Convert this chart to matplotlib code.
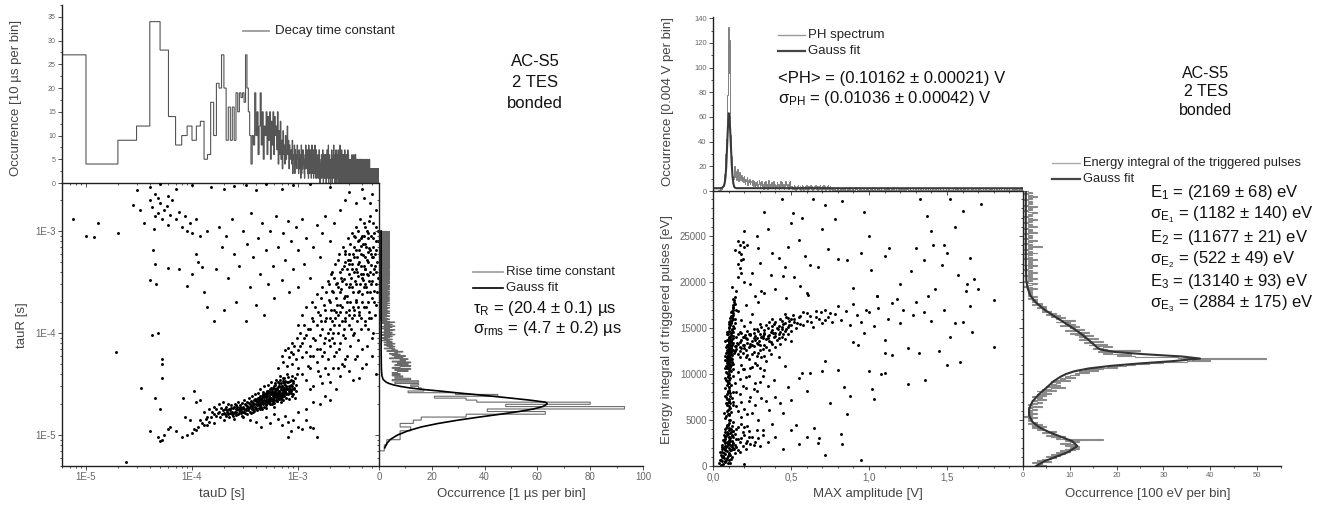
import numpy as np
import matplotlib
matplotlib.use("Agg")
import matplotlib.pyplot as plt
from matplotlib.lines import Line2D
from matplotlib.ticker import MultipleLocator, LogLocator, NullFormatter, FuncFormatter

plt.rcParams['font.family'] = ['Liberation Sans', 'DejaVu Sans']
plt.rcParams['mathtext.fontset'] = 'custom'
plt.rcParams['mathtext.rm'] = 'Liberation Sans'
plt.rcParams['mathtext.it'] = 'Liberation Sans:italic'

# ======================= LEFT PANEL DATA =======================
# decay time constant histogram, 10 us per bin, starting at 0 us
tauD_bin_us = 10
tauD_hist_head = [27, 4, 9, 12, 34, 28, 14, 8, 10, 12,
                  9, 12, 13, 5, 6, 17, 10, 21, 20, 27,
                  20, 9, 16, 9, 16, 9, 19, 15, 19, 18,
                  19, 17, 27, 20, 15, 10, 4, 10, 8, 19,
                  10, 15, 6, 12, 19, 8, 15, 5, 12, 10,
                  15, 6, 14, 9, 15, 5, 13, 8, 15, 6,
                  14, 10, 12, 7, 15, 4, 11, 6, 13, 5,
                  9, 3, 11, 6, 8, 4, 10, 5, 7, 12,
                  6, 9, 3, 8, 5, 6, 7, 4, 9, 2,
                  6, 5, 8, 2, 7, 4, 6, 3, 8, 5]
tauD_hist_tail = ("52736418253746215384637251846273514826371542836174"
                  "31526413725031426153274031625143620531742518036241"
                  "53024163720531426815324061537214062531273051462038"
                  "24150362714025316204613250714230512640315240371526"
                  "20314205132402315031420613250314203516203140250316"
                  "20413052140312502413052031420315024130250314205130"
                  "24130520314205130241305203142051302413052031420513"
                  "024130520314205130241305203120"
                  "12031203120213102312031203120313021302130312031203"
                  "13202312030213021302312031203120312031203120312023"
                  "1")

# rise time constant histogram, 1 us per bin, first bin at 7 us
tauR_bin_us = 1
tauR_first_us = 7
tauR_hist_head = [2, 3, 8, 8, 12, 8, 13, 16, 33, 63, 41, 93, 48, 80, 37, 33, 21, 45, 29, 11,
                  17, 16, 15, 12, 15, 6, 15, 5, 12, 6, 9, 5, 8, 5, 7, 11, 6, 12, 5, 8,
                  12, 6, 11, 7, 12, 5, 10, 8, 11, 4, 9, 6, 10, 5, 8, 4, 7, 6, 9, 3,
                  7, 5, 6, 2, 5, 4, 6, 3, 5, 2, 4, 6, 3, 2, 5, 3, 4, 1, 3, 5,
                  2, 3, 1, 4]
tauR_hist_tail = ("3524163425143253624134251624335241326142"
                  "2130241302120314203102130412032140312031130214021331202410320231402130"
                  "2013042103130241203121043021300312041320213040123110241302133021403120"
                  "1203241302021340213021402312031302041231203140213012403120310213041302"
                  "3120421030130214021320312403120213402130120314023121304023100312041203"
                  "1402130213203142013012304120310213041320210340213013021420310231402103"
                  "2140312031103214021331202413020213402130201304210313024120312104302130"
                  "0312041320213040123110241302133021403120120324130202134021302140231203"
                  "1302041231203140213012403120310213041302312042103013021402132031240312"
                  "0213402130120314023121304023100312041203140213021320314201301230412031"
                  "0213041320210340213013021420310231402103214031203110321402133120241302"
                  "0213402130201304210313024120312104302130031204132021304012311024130213"
                  "3021403120120324130202134021302140231203130204123120314021301240312031"
                  "02130413023120421030")

# Gauss fit of the rise time histogram (tau in us, counts)
riseFit_tau_us = [7.5, 8.3, 9.1, 10, 11, 12, 13, 14, 15, 16, 17, 18, 19, 20, 20.5, 21, 22, 23,
                  24, 25, 26, 27, 28, 29, 30, 31, 32, 33, 35, 38, 45, 70, 1000]
riseFit_cnt = [2.2, 3.0, 4.4, 7.0, 11.0, 16.0, 22.5, 30, 38, 46, 53, 58.5, 62, 63.5, 63.7, 63, 57, 50,
               43, 36, 29, 23, 16.5, 11.5, 8, 5.5, 3.8, 2.7, 1.6, 1.1, 0.9, 0.8, 0.8]

# scatter tauD vs tauR (both in us)
band_pts = [(150,15),(155,17),(160,16),(162,19),(168,15.5),(170,18),(175,16.5),(178,20),(180,17),(185,15),
            (188,18.5),(190,16),(195,17.5),(198,21),(200,16.5),(205,18),(208,15.5),(210,19),(215,17),(218,16),
            (220,20),(225,18),(228,16.5),(230,17.5),(235,19.5),(240,17),(242,15.5),(245,18.5),(250,16.5),(255,20),
            (258,18),(260,17),(265,19),(270,16),(272,21),(275,18),(280,17.5),(285,19.5),(288,16.5),(290,18),
            (295,20.5),(300,17),(305,19),(310,18),(312,22),(318,16.5),(320,19.5),(325,18),(330,21),(335,17.5),
            (340,19),(345,23),(348,18.5),(350,20),(355,17),(360,21.5),(365,19),(370,24),(375,18),(380,20.5),
            (385,22),(390,19),(395,25),(400,20),(405,18.5),(410,22.5),(415,21),(420,26),(425,19.5),(430,23),
            (435,20.5),(440,28),(445,22),(450,19),(455,24),(460,21),(465,26.5),(470,20),(475,23.5),(480,30),
            (485,21.5),(490,25),(495,19.5),(500,22),(505,27),(510,20.5),(515,24),(520,31),(525,22.5),(530,26),
            (535,21),(540,28.5),(545,23),(550,20),(555,25.5),(560,33),(565,22),(570,27),(575,24),(580,21),
            (585,29),(590,23.5),(595,26),(600,20.5),(605,31),(610,24.5),(615,22),(620,27.5),(625,35),(630,23),
            (635,25),(640,21.5),(645,29.5),(650,24),(655,27),(660,22.5),(665,32),(670,25.5),(675,23),(680,38),
            (685,28),(690,24),(695,21),(700,30),(705,26),(710,23.5),(715,34),(720,27),(725,22),(730,29),
            (735,25),(740,36),(745,24),(750,31),(760,27.5),(770,23),(780,40),(790,29),(800,25.5),(810,33),
            (820,27),(830,22.5),(840,30),(850,26),(860,35),(870,24),(880,28),(890,32),(900,25),(920,29),
            (940,23),(960,27),(260,19.5),(330,18.5),(420,21.5),(470,24.5),(520,21.5),(560,26),(610,28),
            (660,30),(720,24.5),(770,26),(830,28),(380,17),(440,18),(500,18.5),(600,19)]
band_more_pts = [(205,16),(212,17.5),(222,15),(232,18.5),(238,16),(248,19),(252,17),(262,15.8),(268,18),(276,16.5),
                 (282,19),(292,17.2),(298,15.5),(302,18.5),(308,16.8),(315,20),(322,17.5),(328,19.2),(332,16),(338,18),
                 (342,20.5),(352,18.8),(358,16.5),(362,19.8),(368,17.8),(372,21),(378,19.5),(382,17.2),(388,20),(392,22.5),
                 (398,18),(402,21.5),(408,19.5),(412,17.5),(418,23),(422,20),(428,18.5),(432,21.5),(438,24),(442,19.5),
                 (448,22.5),(452,20.5),(458,18),(462,23),(468,21.5),(472,25.5),(478,19),(482,22),(488,24.5),(492,20.5),
                 (498,26),(502,23.5),(508,21),(512,25),(518,22.5),(522,27),(528,20.5),(532,24),(538,22),(542,26.5),
                 (548,21.5),(552,29),(558,23),(562,25),(568,20),(572,28),(578,22.5),(582,26),(588,24.5),(592,30),
                 (598,22),(602,27),(608,25),(612,32),(618,23.5),(622,26),(628,29),(632,21.5),(638,28),(642,24.5),
                 (648,33),(652,26.5),(658,23),(662,30),(668,27),(672,24.5),(678,35),(682,26),(688,29.5),(692,22.5),
                 (698,32),(702,27.5),(708,25),(712,30.5),(718,28),(722,36),(728,24),(732,32),(738,26.5),(742,29),
                 (748,34),(755,27),(765,30),(775,25.5),(785,33),(795,28),(805,37),(815,30),(825,26),(835,34),
                 (845,28.5),(855,31),(865,27),(875,38),(885,30),(895,34),(910,28),(930,36),(950,31),(970,40)]
below_pts = [(140,12.5),(160,13),(200,14),(250,14.5),(300,15),(350,14),(400,13.5),(450,12),(500,15),(550,13),
             (600,16),(650,14.5),(700,12.5),(750,15.5),(800,13.5),(850,11),(900,14),(1000,12),(1100,11.5),(1200,14),
             (1300,12),(1400,11.8),(800,9.5),(1500,9.5),(1000,17),(1200,18),(1400,21),(1600,20),(1800,24),(2000,22)]
lowleft_pts = [(40,11),(48,9.5),(50,8.7),(52,9),(55,10),(60,11.5),(62,12),(70,11),(80,9.5),(85,15),
               (90,10),(95,14),(100,10.5),(105,11.5),(110,11.2),(115,12),(120,14),(125,13),(130,12.5),(135,14.5),
               (140,15),(145,13.5),(82,23),(110,21),(105,27),(120,22),(145,18),(130,17),(45,23),(50,18),
               (52,36),(52,50),(52,55),(42,95),(48,100),(19,65),(33,29),(24,5.5)]
fan_pts = [(650,45),(700,60),(720,52),(750,68),(780,48),(800,72),(820,58),(850,65),(870,80),(880,50),
           (900,62),(920,75),(950,55),(980,90),(1000,68),(1000,45),(1050,100),(1100,58),(1100,80),(1150,120),
           (1200,65),(1200,95),(1250,48),(1300,110),(1300,75),(1350,140),(1400,60),(1400,90),(1450,180),(1500,70),
           (1500,120),(1550,42),(1600,95),(1600,150),(1650,220),(1700,60),(1700,110),(1750,80),(1800,170),(1800,130),
           (1850,250),(1900,55),(1900,100),(1950,300),(2000,75),(2000,140),(2000,200),(2050,380),(2100,90),(2100,260),
           (2150,45),(2200,120),(2200,170),(2250,480),(2300,65),(2300,220),(2350,310),(2400,100),(2400,150),(2450,600),
           (2500,80),(2500,190),(2500,400),(2550,270),(2600,50),(2600,130),(2650,700),(2700,110),(2700,340),(2750,230),
           (2800,90),(2800,500),(2850,160),(2900,60),(2900,420),(2950,850),(3000,120),(3000,280),(3000,600),(3100,200),
           (3100,75),(3150,350),(3200,140),(3200,950),(3250,480),(3300,95),(3300,250),(3350,700),(3400,170),(3400,400),
           (3450,55),(3500,300),(3500,1100),(3550,210),(3600,130),(3600,550),(3650,800),(3700,85),(3700,360),(3750,260),
           (3800,160),(3800,650),(3850,1300),(3900,450),(3950,110),(4000,240),(4000,900),(4050,70),(4100,330),(4100,580),
           (4200,180),(4200,1200),(4250,420),(4300,130),(4300,750),(4400,280),(4400,50),(4500,520),(4500,1000),(4550,200),
           (4600,370),(4700,140),(4700,680),(4800,250),(4800,1400),(4900,460),(5000,90),(5000,320),(5100,850),(5200,200),
           (5300,600),(5400,1100),(5400,40),(5500,400),(5500,1600),(1200,35),(1400,30),(1600,38),(1800,45),(2000,33),
           (2200,60),(2500,38),(2700,48),(3000,42),(3300,35),(3600,60),(4000,45),(4500,75),(5000,60),(1300,28),
           (1700,32),(2300,28),(3800,36),(5600,250),(5700,800),(2600,320),(3100,520),(3450,880),(3900,720),(4600,950),
           (2900,230),(3300,180),(4100,380),(4900,600),(2400,280),(3700,480),(4300,300),(5200,420),(2200,350),(2800,640)]
fan_more_pts = [(1000,120),(1050,75),(1100,150),(1150,90),(1200,180),(1250,110),(1300,60),(1350,200),(1400,130),(1450,85),
                (1500,240),(1550,160),(1600,70),(1650,130),(1700,280),(1750,190),(1800,90),(1850,140),(1900,320),(1950,210),
                (2000,110),(2050,170),(2100,400),(2150,250),(2200,80),(2250,140),(2300,300),(2350,190),(2400,520),(2450,120),
                (2500,250),(2550,350),(2600,180),(2650,95),(2700,450),(2750,600),(2800,140),(2850,300),(2900,200),(2950,520),
                (3000,170),(3050,380),(3100,750),(3150,110),(3200,420),(3250,280),(3300,600),(3350,150),(3400,900),(3450,320),
                (3500,200),(3550,650),(3600,400),(3650,250),(3700,1000),(3750,150),(3800,500),(3850,300),(3900,850),(3950,600),
                (4000,350),(4050,200),(4100,750),(4150,450),(4200,280),(4250,1100),(4300,550),(4350,180),(4400,700),(4450,380),
                (4500,250),(4550,850),(4600,500),(4650,160),(4700,1250),(4750,400),(4800,650),(4850,300),(4900,900),(4950,220),
                (5000,550),(5050,1200),(5100,380),(5150,700),(5200,260),(5250,950),(5300,450),(5350,150),(5400,650),(5450,300),
                (5500,800),(5600,500),(5700,350),(5700,1000),(2600,420),(3000,480),(3400,560),(3800,820),(4200,900),(4600,620),
                (2300,160),(2700,220),(3100,300),(3500,420),(3900,380),(4300,420),(4700,320),(5100,560),(2100,130),(2500,160),
                (1750,65),(1950,85),(2150,100),(2450,70),(2750,130),(3050,150),(3350,100),(3650,180),(3950,140),(4250,120),
                (4550,110),(4850,140),(5150,100),(5450,190),(1100,40),(1300,45),(1500,52),(1900,40),(2400,45),(2800,55)]
upper_pts = [(30,2500),(40,2700),(45,2300),(50,2900),(60,2200),(70,2600),(100,2800),(150,2700),(200,2600),(250,2750),
             (320,2850),(400,2500),(500,2900),(700,2600),(900,2800),(1300,2900),(2000,2700),(3000,2400),(4000,2600),(5000,2300),
             (28,1800),(32,1600),(35,1200),(40,2000),(42,1700),(45,1400),(48,2100),(50,1900),(52,1300),(55,1600),
             (58,1750),(60,1150),(62,1450),(65,2000),(70,1300),(75,1550),(80,1100),(85,1400),(90,1000),(95,1200),
             (100,950),(110,1300),(120,900),(140,1000),(48,1500),(44,1050),(43,650),(45,480),(46,300),(40,330),
             (60,430),(75,420),(100,380),(90,290),(7.5,1300),(13,1200),(10,900),(12,880),(20,950),
             (110,600),(115,500),(125,440),(130,250),(140,180),(160,130),(170,420),(180,1100),(190,700),(200,170),
             (210,900),(220,350),(240,1300),(250,600),(260,200),(280,450),(300,1000),(320,130),(330,750),(350,280),
             (360,1500),(380,550),(400,190),(420,850),(440,380),(460,1200),(480,150),(500,650),(520,300),(550,1000),
             (580,450),(600,220),(620,1400),(650,700),(700,330),(720,950),(750,520),(800,1250),(820,250),(850,800),
             (900,420),(950,1100),(1000,280),(1000,650),(1100,1300),(1150,480),(1200,850),(1300,350),(1400,700),(1500,1150),
             (1600,550),(1700,950),(1800,1400),(2000,800),(2200,1200),(2500,1600),(2800,2000),(3500,1900),(4200,2100),(4800,1900)]

# ======================= RIGHT PANEL DATA =======================
# PH spectrum, 0.004 V per bin
ph_bin_V = 0.004
ph_hist_head = [0, 0, 0, 0, 0, 0, 0, 0, 1, 0, 1, 2, 1, 3, 2,
                4, 6, 9, 14, 20, 30, 42, 55, 78, 133, 96, 122, 70, 45, 28, 16, 12, 10,
                14, 20, 11, 16, 9, 13, 18, 8, 12, 15, 10, 9, 13, 8, 11, 7, 12, 9, 6, 10, 8, 11, 5, 9, 7, 10, 6, 8]
ph_hist_tail = ("7594863758469735846273584629536475384625374625384736254853627384"
                "342352413245324135241342531424352413243524134253142352413425314223"
                "1021201312012021102121012013101202101321011202101220102120111203101201"
                "0211201021101210213020110201211020112012012102110221012010121012010211"
                "0210121012110201210120110210120120110201102101201101120102102010120112"
                "1021102010012021101210120121010211020110102012101201120102012101120102"
                "101201102101201201121213")

# Gauss fit of the PH spectrum (V, counts)
phFit_V = [0.0, 0.05, 0.06, 0.07, 0.075, 0.08, 0.085, 0.09, 0.095, 0.1, 0.1016, 0.105, 0.11,
           0.115, 0.12, 0.125, 0.13, 0.135, 0.14, 0.15, 1.99]
phFit_cnt = [2.2, 2.3, 2.8, 4.0, 6.5, 11, 20, 35, 50, 61, 63, 60, 50, 36, 22, 12, 6.5, 3.8, 2.7, 2.3, 2.2]

# energy integral histogram, 100 eV per bin
en_bin_eV = 100
en_hist = [5, 3, 4, 2, 6, 3, 5, 4, 6, 7, 5, 8, 6, 9, 7, 10, 8, 11, 9, 12,
           10, 12, 9, 11, 8, 10, 12, 9, 17, 7, 8, 6, 9, 5, 7, 6, 4, 7, 5, 3,
           4, 2, 5, 3, 2, 4, 1, 3, 2, 1, 2, 1, 3, 0, 2, 1, 2, 3, 1, 2,
           1, 3, 2, 1, 4, 2, 1, 3, 2, 4, 3, 2, 5, 3, 4, 2, 5, 3, 6, 4,
           5, 3, 7, 4, 6, 9, 5, 8, 6, 7, 8, 6, 10, 7, 9, 8, 11, 9, 10, 12,
           11, 14, 12, 16, 13, 17, 15, 20, 18, 22, 24, 27, 30, 35, 40, 36, 52, 33, 28, 24,
           20, 23, 17, 19, 16, 25, 18, 15, 17, 19, 16, 14, 18, 15, 13, 17, 14, 12, 16, 13,
           12, 15, 11, 13, 10, 14, 12, 9, 13, 11, 10, 12, 8, 11, 9, 10, 7, 9, 11, 8,
           7, 9, 6, 8, 5, 7, 6, 4, 6, 5, 4, 5, 3, 5, 4, 2, 4, 3, 2, 3,
           2, 3, 1, 2, 3, 1, 2, 1, 2, 1,
           2, 1, 3, 1, 2, 0, 1, 2, 3, 1, 0, 2, 1, 3, 1, 2, 1, 0, 2, 1,
           3, 1, 2, 0, 1, 2, 1, 3, 0, 1, 2, 1, 2, 1, 3, 0, 2, 1, 1, 2,
           0, 3, 1, 2, 1, 0, 2, 1, 4, 1, 2, 0, 1, 2, 1, 3, 1, 0, 2, 1,
           2, 1, 0, 3, 1, 2, 1, 2, 0, 1, 3, 1, 2, 1, 0, 2, 1, 3, 1, 2,
           1, 0, 2, 1, 2, 3, 1, 0, 2, 1, 2, 1, 3, 0, 1, 2, 1, 2, 1, 0,
           2, 1, 3, 1, 2, 1, 0, 2, 1]

# Gauss fit (3 components) of the energy histogram (eV, counts)
enFit_E = [0, 500, 1000, 1500, 2169, 2700, 3200, 3700, 4200, 4800, 5500, 6200, 7000, 7800, 8500,
           9200, 9700, 10000, 10300, 10600, 10900, 11150, 11400, 11677, 11900, 12150, 12400, 12650, 12900,
           13300, 13800, 14400, 15000, 15700, 16400, 17100, 17800, 18500, 19300, 20200, 22000, 29900]
enFit_cnt = [2.8, 4.5, 7.0, 9.6, 11.6, 10.5, 8.0, 5.5, 3.5, 2.0, 1.3, 1.3, 2.0, 3.4, 5.0,
             6.5, 8.0, 9.2, 11, 14, 19, 25, 32, 37.8, 34, 26, 19.5, 16.6, 15.8,
             14.9, 13.8, 12.3, 10.6, 8.5, 6.3, 4.3, 2.7, 1.6, 1.0, 0.7, 0.6, 0.6]

# scatter MAX amplitude (V) vs energy integral (eV)
col_pts = [(0.08,5200),(0.1,5500),(0.09,6000),(0.11,6300),(0.085,6800),(0.1,7100),(0.12,7400),(0.09,7800),
           (0.105,8200),(0.08,8500),(0.115,8800),(0.095,9000),(0.07,5800),(0.13,6600),(0.075,7600),(0.125,8000),
           (0.09,9200),(0.1,9400),(0.11,9600),(0.095,9800),(0.105,10000),(0.085,10200),(0.115,10300),(0.1,10500),
           (0.09,10700),(0.11,10800),(0.095,11000),(0.105,11100),(0.1,11200),(0.12,11300),(0.09,11400),(0.11,11500),
           (0.1,11600),(0.095,11650),(0.105,11700),(0.115,11750),(0.1,11800),(0.09,11850),(0.11,11900),(0.1,12000),
           (0.12,12050),(0.095,12100),(0.105,12200),(0.085,12300),(0.115,12350),(0.1,12400),(0.11,12500),(0.09,12600),
           (0.125,12650),(0.1,12700),(0.105,12800),(0.115,12900),(0.095,13000),(0.11,13100),(0.12,13200),(0.1,13300),
           (0.13,13400),(0.105,13500),(0.115,13600),(0.09,13700),(0.12,13800),(0.1,13900),(0.11,14000),(0.125,14100),
           (0.095,14300),(0.115,14500),(0.105,14700),(0.12,14900),(0.1,15100),(0.11,15300),(0.115,15500),(0.105,15700),
           (0.12,15900),(0.11,16100),(0.115,16300),(0.125,16600),(0.12,16900),(0.13,17200),(0.125,17500),(0.135,17800),
           (0.13,18100),(0.14,18400),(0.08,9600),(0.075,10600),(0.08,11500),(0.085,12900),(0.08,13600),(0.09,14600),
           (0.075,12000),(0.13,10500),(0.125,11100),(0.135,12300),(0.14,13000),(0.13,9800),
           (0.09,4500),(0.1,5000),(0.095,5600),(0.105,6200),(0.09,6600),(0.1,7000),(0.11,7600),(0.095,8000),
           (0.105,8600),(0.1,9000),(0.085,5400),(0.115,5900),(0.09,7300),(0.1,8300),(0.11,6900),
           (0.15,19000),(0.16,20500),(0.17,21500),(0.16,22000),(0.18,23000),(0.17,24000),(0.19,24400),(0.2,23800),
           (0.18,21000),(0.19,22500),(0.165,23300),(0.2,20000),(0.145,17000),(0.14,16000),(0.135,15000)]
col_more_pts = [(0.085,9400),(0.095,9700),(0.105,9900),(0.09,10100),(0.1,10300),(0.11,10400),(0.095,10600),(0.105,10800),
                (0.085,10900),(0.115,11000),(0.1,11050),(0.09,11150),(0.11,11250),(0.095,11350),(0.105,11450),(0.1,11520),
                (0.12,11600),(0.09,11700),(0.11,11780),(0.1,11900),(0.095,11950),(0.105,12050),(0.115,12150),(0.1,12250),
                (0.09,12350),(0.11,12450),(0.1,12550),(0.12,12600),(0.105,12650),(0.095,12750),(0.115,12850),(0.1,12950),
                (0.11,13050),(0.09,13150),(0.105,13250),(0.12,13350),(0.1,13450),(0.115,13550),(0.095,13650),(0.11,13750),
                (0.105,13850),(0.125,13950),(0.1,14050),(0.115,14200),(0.09,14400),(0.11,14600),(0.12,14800),(0.1,15000),
                (0.125,15200),(0.105,15400),(0.115,15600),(0.11,15800),(0.125,16000),(0.12,16200),(0.13,16400),(0.115,16700),
                (0.13,17000),(0.125,17300),(0.14,17600),(0.135,18000),(0.09,8800),(0.1,8600),(0.095,8200),(0.11,7900),
                (0.085,7500),(0.1,7300),(0.09,6900),(0.105,6500),(0.095,6100),(0.1,5700)]
band2_pts = [(0.14,12500),(0.15,13000),(0.16,12200),(0.17,13500),(0.18,12800),(0.19,14000),(0.2,13200),(0.21,12600),
             (0.22,13800),(0.23,14300),(0.24,13000),(0.25,13600),(0.26,12400),(0.27,14100),(0.28,13400),(0.29,14700),
             (0.3,13100),(0.31,14000),(0.32,12700),(0.33,14500),(0.34,13800),(0.35,15000),(0.36,14200),(0.37,13500),
             (0.38,14800),(0.39,15400),(0.4,14100),(0.41,13700),(0.42,15200),(0.43,14600),(0.44,15800),(0.45,14300),
             (0.46,15500),(0.47,14900),(0.48,16100),(0.49,15300),(0.5,14700),(0.51,16400),(0.52,15600),(0.53,15000),
             (0.55,16200),(0.56,15400),(0.58,16700),(0.6,15800),(0.62,16300),(0.64,15100),(0.66,16900),(0.68,16000),
             (0.7,15500),(0.72,17000),(0.74,16200),(0.76,15700),(0.78,16500),(0.8,17400),(0.82,15900),(0.85,16800),
             (0.88,15300),(0.9,17600),(0.92,16400),(0.95,15600),(0.98,17000),
             (0.15,14000),(0.17,14600),(0.19,12300),(0.2,15200),(0.22,12100),(0.24,15600),(0.26,14900),(0.28,12000),
             (0.3,15400),(0.33,13200),(0.36,12600),(0.38,16000),(0.4,12900),(0.43,13300),(0.46,16500),(0.5,13600),
             (0.13,14600),(0.14,15500),(0.16,16800),(0.18,15900),(0.21,17500),(0.25,16500),(0.29,17800),(0.31,11800),
             (0.34,11400),(0.27,11200),(0.23,11600),(0.18,11000),(0.2,10500),(0.155,13400),(0.175,12900),(0.205,14200),
             (0.235,13300),(0.265,13900),(0.295,13600),(0.325,14300),(0.355,13900),(0.385,14500),(0.415,14900),(0.445,15100)]
band2_more_pts = [(0.15,12700),(0.16,13300),(0.17,12500),(0.18,13700),(0.19,13100),(0.2,12800),(0.21,13900),(0.22,13400),
                  (0.23,12900),(0.24,14200),(0.25,13200),(0.26,14500),(0.27,13700),(0.28,14900),(0.29,13300),(0.3,14400),
                  (0.31,15100),(0.32,13900),(0.33,14800),(0.34,15300),(0.35,14100),(0.36,15600),(0.37,14600),(0.38,15200),
                  (0.39,14000),(0.4,15700),(0.41,15000),(0.42,14400),(0.43,16000),(0.44,14900),(0.45,15400),(0.46,14700),
                  (0.47,16200),(0.48,15100),(0.49,15800),(0.5,15300),(0.52,16000),(0.54,15500),(0.56,16300),(0.58,15300),
                  (0.6,16600),(0.63,15700),(0.66,16200),(0.69,16700),(0.72,15900),(0.75,16600),(0.16,14300),(0.18,14500),
                  (0.2,14000),(0.22,14700),(0.24,14400),(0.26,13000),(0.28,13900),(0.3,12600),(0.32,14100),(0.34,12900),
                  (0.36,13600),(0.38,13300),(0.4,14500),(0.42,13900),(0.44,14000),(0.46,13800),(0.48,14400),(0.5,16000),
                  (0.17,11800),(0.21,11900),(0.25,12200),(0.29,12300),(0.33,12000),(0.37,12200)]
right2_pts = [(1.0,16700),(1.03,15200),(1.06,17200),(1.1,12300),(1.12,16000),(1.15,17700),(1.18,18200),(1.2,15500),
              (1.25,12800),(1.28,16400),(1.3,17800),(1.32,12300),(1.35,16700),(1.38,18500),(1.4,15800),(1.42,19200),
              (1.45,12500),(1.48,17000),(1.5,11000),(1.52,14000),(1.55,15500),(1.58,11300),(1.6,15600),(1.62,19000),
              (1.65,17400),(1.66,14600),(1.7,19200),(1.8,18000),(1.8,12900),(1.1,13700),(1.08,10000),(1.15,12100),
              (1.22,17000),(1.05,18500),(0.97,14500),(0.93,13200),(0.9,13500)]
upper2_pts = [(0.2,25500),(0.22,24000),(0.25,21000),(0.28,25000),(0.29,23700),(0.3,22100),(0.31,19000),(0.33,27600),
              (0.35,25800),(0.37,20800),(0.4,19200),(0.42,22600),(0.44,29000),(0.45,20600),(0.46,21600),(0.48,23800),
              (0.5,26400),(0.51,27500),(0.52,20500),(0.55,24600),(0.56,19600),(0.57,27000),(0.59,22800),(0.6,18800),
              (0.62,21800),(0.64,29000),(0.67,21600),(0.7,25800),(0.72,28400),(0.74,23600),(0.78,26800),(0.8,22500),
              (0.83,28800),(0.86,22400),(0.9,19300),(0.95,23100),(0.97,27600),(1.0,25000),(1.01,21300),(1.05,18500),
              (1.1,22800),(1.13,23700),(1.2,19800),(1.27,21200),(1.3,23700),(1.33,29000),(1.35,22400),(1.37,27200),
              (1.4,25500),(1.41,24000),(1.47,21800),(1.48,24000),(1.5,23200),(1.52,29000),(1.55,26000),(1.57,20800),
              (1.6,27700),(1.63,19800),(1.65,22600),(1.67,20300),(1.72,28500),(0.18,22400),(0.24,19800),(0.27,18500),
              (0.38,23200),(0.16,24500),(0.12,19500),(0.14,23500),(0.33,18800),(0.47,18300),(0.61,18600)]
mid2_pts = [(0.14,9000),(0.15,6500),(0.16,10200),(0.17,7800),(0.18,5300),(0.19,8700),(0.2,6200),(0.21,9700),
            (0.22,4300),(0.23,7100),(0.24,10600),(0.25,5800),(0.26,8400),(0.27,6600),(0.28,11000),(0.29,5000),
            (0.3,9100),(0.31,7400),(0.32,3900),(0.33,10400),(0.35,8700),(0.36,6100),(0.38,4600),(0.39,9400),
            (0.4,7500),(0.42,11800),(0.43,6800),(0.45,5800),(0.46,10900),(0.48,8600),(0.5,7200),(0.53,4500),
            (0.55,9600),(0.57,10100),(0.6,8200),(0.62,10100),(0.65,4100),(0.68,3000),(0.7,10300),(0.72,11400),
            (0.75,6900),(0.8,10400),(0.83,2400),(0.84,8600),(0.86,5600),(0.88,7600),(0.95,600),(1.0,10300),
            (1.02,8400),(1.03,7300),(1.1,10100),(1.25,8900),(1.36,9300),(0.72,1200),(0.55,2400),(0.45,1900),
            (0.4,3100),(0.35,2600),(0.6,3200),(0.82,3500),(0.67,2500),(0.5,3900),
            (0.15,8000),(0.17,9500),(0.19,10500),(0.21,8500),(0.23,9800),(0.25,10800),(0.27,9000),(0.3,10600),
            (0.13,7000),(0.16,6000),(0.18,7000),(0.22,5600),(0.24,7500),(0.28,8100),(0.32,9800),(0.34,7100)]
low2_pts = [(0.05,100),(0.06,500),(0.065,200),(0.07,900),(0.075,400),(0.08,1300),(0.085,700),(0.09,1600),
            (0.095,1100),(0.1,2000),(0.105,1400),(0.11,2300),(0.115,1700),(0.12,2700),(0.125,2000),(0.13,3100),
            (0.06,1500),(0.07,2000),(0.075,2500),(0.08,2900),(0.085,3300),(0.09,3700),(0.095,2400),(0.1,2800),
            (0.105,3200),(0.11,3600),(0.115,4000),(0.12,4400),(0.125,3800),(0.09,4300),(0.1,4700),(0.08,4000),
            (0.07,3400),(0.065,2800),(0.055,1800),(0.05,1200),(0.045,600),(0.04,300),(0.1,600),(0.12,1000),
            (0.14,1400),(0.15,2100),(0.16,1700),(0.17,2600),(0.18,3000),(0.19,2200),(0.2,3400),(0.21,1900),
            (0.22,2700),(0.23,3800),(0.24,2400),(0.25,3200),(0.27,2600),(0.28,3900),(0.3,2200),(0.32,3400),
            (0.2,200),(0.14,3500),(0.16,4200),(0.18,4600),(0.13,4800),(0.11,5000),(0.085,2100),(0.095,3500),
            (0.105,2600),(0.075,1700),(0.115,800),(0.135,1800),(0.145,2900),(0.11,300),(0.09,2600),(0.1,3900),
            (0.08,2200),(0.12,3300),(0.07,2800),(0.11,1200),(0.095,300),(0.13,2500),
            (0.05,600),(0.06,1000),(0.07,1400),(0.08,1800),(0.09,2200),(0.1,2600),(0.11,3000),(0.12,3400),
            (0.13,3800),(0.06,2300),(0.07,2700),(0.08,3200),(0.09,3500),(0.1,3100),(0.11,2700),(0.12,2300),
            (0.13,1900),(0.08,500),(0.09,900),(0.1,1300),(0.11,1700),(0.12,2100),(0.075,3700),(0.085,4100),
            (0.095,4500),(0.105,4100),(0.115,3700),(0.065,1100),(0.055,2100),(0.045,1500),(0.14,2300),(0.16,2900),
            (0.17,1500),(0.19,3700),(0.21,2500),(0.23,3100),(0.26,2300),(0.29,3000),(0.15,4000),(0.2,4200)]

# ======================= FIGURE =======================
W, H = 1317, 508
fig = plt.figure(figsize=(W / 100, H / 100), dpi=100)
fig.patch.set_facecolor('white')

def ax_px(l, t, r, b):
    return fig.add_axes([l / W, 1 - b / H, (r - l) / W, (b - t) / H])

def T(x, y, s, size, **kw):
    kw.setdefault('va', 'center')
    kw.setdefault('color', '#111111')
    fig.text(x / W, 1 - y / H, s, fontsize=size, **kw)

def L(x1, x2, y, color, lw):
    fig.add_artist(Line2D([x1 / W, x2 / W], [1 - y / H, 1 - y / H], color=color, lw=lw,
                          transform=fig.transFigure))

def style(ax, lsize, show=('left', 'bottom')):
    for k, s in ax.spines.items():
        s.set_visible(k in show)
        s.set_linewidth(1.0)
        s.set_color('#222222')
    ax.tick_params(which='both', direction='out', color='#333333', width=0.6,
                   labelsize=lsize, labelcolor='#666666', pad=1.5)
    ax.tick_params(which='major', length=3)
    ax.tick_params(which='minor', length=1.7)
    ax.set_facecolor('none')

def dots(ax, groups, xscale=1.0, yscale=1.0):
    for grp in groups:
        a = np.array(grp, dtype=float)
        ax.scatter(a[:, 0] * xscale, a[:, 1] * yscale, s=4.5, c='black', linewidths=0)

sci = FuncFormatter(lambda v, p: '1E%d' % int(round(np.log10(v))))
comma = FuncFormatter(lambda v, p: ('%.1f' % v).replace('.', ','))

xlimD = (5.94e-6, 5.81e-3)
ylimR = (4.97e-6, 2.955e-3)

# ---- left top histogram ----
axT = ax_px(62, 5, 379, 183)
vals = np.array(tauD_hist_head + [int(c) for c in tauD_hist_tail], dtype=float)
edges = np.arange(len(vals) + 1) * tauD_bin_us * 1e-6
edges[0] = 1e-7
axT.stairs(vals, edges, color='#555555', lw=0.8)
axT.set_xscale('log')
axT.set_xlim(*xlimD)
axT.set_ylim(0, 37.5)
axT.yaxis.set_major_locator(MultipleLocator(5))
axT.yaxis.set_minor_locator(MultipleLocator(2.5))
axT.xaxis.set_major_locator(LogLocator(base=10))
axT.xaxis.set_minor_locator(LogLocator(base=10, subs=np.arange(2, 10)))
axT.xaxis.set_major_formatter(NullFormatter())
axT.xaxis.set_minor_formatter(NullFormatter())
style(axT, 5)

# ---- left scatter ----
axS = ax_px(62, 183, 379, 466)
dots(axS, (band_pts, band_more_pts, below_pts, lowleft_pts, fan_pts, fan_more_pts, upper_pts), 1e-6, 1e-6)
axS.set_xscale('log')
axS.set_yscale('log')
axS.set_xlim(*xlimD)
axS.set_ylim(*ylimR)
for axis in (axS.xaxis, axS.yaxis):
    axis.set_major_locator(LogLocator(base=10))
    axis.set_minor_locator(LogLocator(base=10, subs=np.arange(2, 10)))
    axis.set_major_formatter(sci)
    axis.set_minor_formatter(NullFormatter())
style(axS, 7)

# ---- left right histogram ----
axR = ax_px(379, 183, 643, 466)
rv = np.array(tauR_hist_head + [int(c) for c in tauR_hist_tail], dtype=float)
redges = (tauR_first_us + np.arange(len(rv) + 1) * tauR_bin_us) * 1e-6
axR.stairs(rv, redges, orientation='horizontal', color='#6a6a6a', lw=0.8)
axR.plot(riseFit_cnt, np.array(riseFit_tau_us) * 1e-6, color='black', lw=1.2)
axR.set_yscale('log')
axR.set_ylim(*ylimR)
axR.set_xlim(0, 100)
axR.xaxis.set_major_locator(MultipleLocator(20))
axR.xaxis.set_minor_locator(MultipleLocator(10))
axR.yaxis.set_major_locator(LogLocator(base=10))
axR.yaxis.set_minor_locator(LogLocator(base=10, subs=np.arange(2, 10)))
axR.yaxis.set_major_formatter(NullFormatter())
axR.yaxis.set_minor_formatter(NullFormatter())
style(axR, 7)

# ---- right top histogram ----
axT2 = ax_px(713, 17, 1023, 191)
pv = np.array(ph_hist_head + [int(c) for c in ph_hist_tail], dtype=float)
pedges = np.arange(len(pv) + 1) * ph_bin_V
axT2.stairs(pv, pedges, color='#808080', lw=0.7)
axT2.plot(phFit_V, phFit_cnt, color='#3a3a3a', lw=1.5)
axT2.set_xlim(0, 1.987)
axT2.set_ylim(0, 141)
axT2.yaxis.set_major_locator(MultipleLocator(20))
axT2.yaxis.set_minor_locator(MultipleLocator(10))
axT2.xaxis.set_major_locator(MultipleLocator(0.5))
axT2.xaxis.set_minor_locator(MultipleLocator(0.1))
axT2.xaxis.set_major_formatter(NullFormatter())
style(axT2, 5.5)

# ---- right scatter ----
axS2 = ax_px(713, 191, 1023, 466)
dots(axS2, (col_pts, col_more_pts, band2_pts, band2_more_pts, right2_pts, upper2_pts, mid2_pts, low2_pts))
axS2.set_xlim(0, 1.987)
axS2.set_ylim(0, 29890)
axS2.xaxis.set_major_locator(MultipleLocator(0.5))
axS2.xaxis.set_minor_locator(MultipleLocator(0.1))
axS2.xaxis.set_major_formatter(comma)
axS2.yaxis.set_major_locator(MultipleLocator(5000))
axS2.yaxis.set_minor_locator(MultipleLocator(1000))
style(axS2, 7)

# ---- right right histogram ----
axR2 = ax_px(1023, 191, 1281, 466)
ev = np.array(en_hist, dtype=float)
eedges = np.arange(len(ev) + 1) * en_bin_eV
axR2.stairs(ev, eedges, orientation='horizontal', color='#8a8a8a', lw=0.8)
axR2.plot(enFit_cnt, enFit_E, color='#333333', lw=1.5)
axR2.set_ylim(0, 29890)
axR2.set_xlim(0, 55.1)
axR2.xaxis.set_major_locator(MultipleLocator(10))
axR2.xaxis.set_minor_locator(MultipleLocator(5))
axR2.yaxis.set_major_locator(MultipleLocator(5000))
axR2.yaxis.set_minor_locator(MultipleLocator(1000))
axR2.yaxis.set_major_formatter(NullFormatter())
style(axR2, 5.5)

# ======================= TEXTS =======================
lab = dict(size=9.5, color='#444444', ha='center')
T(16, 98, 'Occurrence [10 µs per bin]', rotation=90, **lab)
T(22, 325, 'tauR [s]', rotation=90, **lab)
T(222, 494, 'tauD [s]', **lab)
T(511, 494, 'Occurrence [1 µs per bin]', **lab)
T(668, 101, 'Occurrence [0.004 V per bin]', rotation=90, **lab)
T(667, 330, 'Energy integral of triggered pulses [eV]', rotation=90, **lab)
T(868, 494, 'MAX amplitude [V]', **lab)
T(1148, 494, 'Occurrence [100 eV per bin]', **lab)

# left panel legends / annotations
L(243, 269, 31, '#999999', 1.3)
T(275, 31, 'Decay time constant', 9.5, color='#222222')
for i, s in enumerate(['AC-S5', '2 TES', 'bonded']):
    T(535, 62 + 21 * i, s, 12, ha='center')
L(473, 503, 272, '#999999', 1.2)
T(506, 272, 'Rise time constant', 9.5, color='#222222')
L(473, 503, 288, 'black', 1.2)
T(506, 288, 'Gauss fit', 9.5, color='#222222')
T(473, 308, r'$\mathregular{τ_R}$ = (20.4 ± 0.1) µs', 12)
T(473, 328, r'$\mathregular{σ_{rms}}$ = (4.7 ± 0.2) µs', 12)

# right panel legends / annotations
L(778, 805, 35, '#999999', 1.0)
T(808, 35, 'PH spectrum', 9.5, color='#222222')
L(778, 805, 51, '#444444', 1.6)
T(808, 51, 'Gauss fit', 9.5, color='#222222')
T(778, 78, '<PH> = (0.10162 ± 0.00021) V', 12)
T(778, 98, r'$\mathregular{σ_{PH}}$ = (0.01036 ± 0.00042) V', 12)
for i, s in enumerate(['AC-S5', '2 TES', 'bonded']):
    T(1206, 74 + 18 * i, s, 11.5, ha='center')
L(1052, 1080, 163, '#aaaaaa', 1.0)
T(1083, 163, 'Energy integral of the triggered pulses', 9.3, color='#222222')
L(1052, 1080, 179, '#444444', 1.6)
T(1083, 179, 'Gauss fit', 9.3, color='#222222')
elines = [r'$\mathregular{E_1}$ = (2169 ± 68) eV',
          r'$\mathregular{σ_{E_1}}$ = (1182 ± 140) eV',
          r'$\mathregular{E_2}$ = (11677 ± 21) eV',
          r'$\mathregular{σ_{E_2}}$ = (522 ± 49) eV',
          r'$\mathregular{E_3}$ = (13140 ± 93) eV',
          r'$\mathregular{σ_{E_3}}$ = (2884 ± 175) eV']
for i, s in enumerate(elines):
    T(1150, 193 + 22.2 * i, s, 12)

fig.savefig('out.png', dpi=100)
